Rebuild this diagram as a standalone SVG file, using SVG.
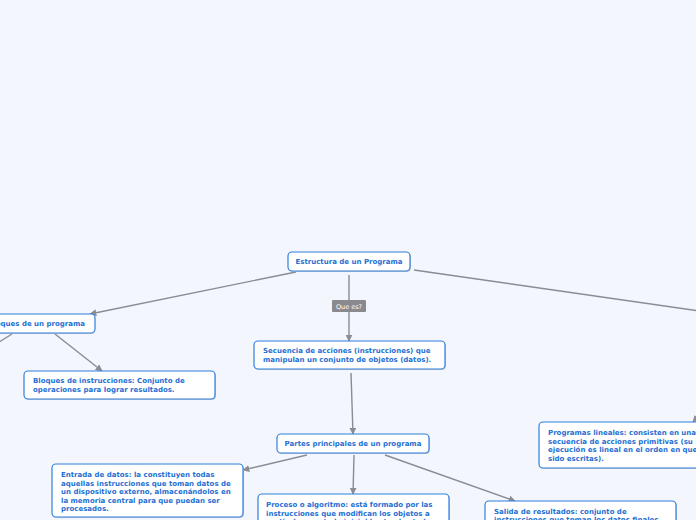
<svg xmlns="http://www.w3.org/2000/svg" width="696" height="520" viewBox="0 0 696 520">
<defs>
<marker id="ah" viewBox="0 0 10 10" refX="9" refY="5" markerWidth="7" markerHeight="7" orient="auto" markerUnits="userSpaceOnUse"><path d="M0,0 L10,5 L0,10 z" fill="#8a8b93"/></marker>
<style>
.bg{fill:#f4f6fd}
.n{fill:#fff;stroke:#2f7fdc;stroke-width:1.2}
.sh{fill:#c9ccd6}
.t{font-family:"DejaVu Sans",Verdana,sans-serif;font-weight:bold;font-size:7px;fill:#1f6fd2}
.c{fill:none;stroke:#8a8b93;stroke-width:1.4}
.lb{fill:#8a8a8e}
.lt{font-family:"DejaVu Sans",sans-serif;font-size:6.5px;fill:#fff}
</style>
</defs>
<rect class="bg" x="0" y="0" width="696" height="520"/>
<g id="connectors">
<line class="c" x1="296" y1="272" x2="90" y2="314" marker-end="url(#ah)"/>
<line class="c" x1="349" y1="275" x2="349" y2="341" marker-end="url(#ah)"/>
<line class="c" x1="414" y1="270" x2="700" y2="311"/>
<line class="c" x1="55" y1="334" x2="102" y2="371" marker-end="url(#ah)"/>
<line class="c" x1="12" y1="334" x2="-4" y2="344"/>
<line class="c" x1="351" y1="373" x2="353" y2="434" marker-end="url(#ah)"/>
<line class="c" x1="307" y1="455" x2="243" y2="470" marker-end="url(#ah)"/>
<line class="c" x1="354" y1="455" x2="353" y2="494" marker-end="url(#ah)"/>
<line class="c" x1="385" y1="455" x2="515" y2="501" marker-end="url(#ah)"/>
<line class="c" x1="702" y1="412" x2="693" y2="422" marker-end="url(#ah)"/>
<rect class="lb" x="332" y="300" width="34" height="12" rx="1"/>
<text class="lt" x="349" y="308.5" text-anchor="middle">Que es?</text>
</g>
<g id="root">
<rect class="sh" x="289" y="253" width="122" height="19" rx="4"/>
<rect class="n" x="288" y="252" width="122" height="19" rx="4"/>
<text class="t" x="349" y="264" text-anchor="middle">Estructura de un Programa</text>
</g>
<g id="bloques">
<rect class="sh" x="-19" y="315" width="114" height="19" rx="4"/>
<rect class="n" x="-20" y="314" width="115" height="19" rx="4"/>
<text class="t" x="-12" y="326">Bloques de un programa</text>
</g>
<g id="bloques-instrucciones">
<rect class="sh" x="25" y="372" width="191" height="28" rx="4"/>
<rect class="n" x="24" y="371" width="191" height="28" rx="4"/>
<text class="t" x="33" y="383">Bloques de instrucciones: Conjunto de</text>
<text class="t" x="33" y="392">operaciones para lograr resultados.</text>
</g>
<g id="secuencia">
<rect class="sh" x="255" y="342" width="191" height="28" rx="4"/>
<rect class="n" x="254" y="341" width="191" height="28" rx="4"/>
<text class="t" x="263" y="353">Secuencia de acciones (instrucciones) que</text>
<text class="t" x="263" y="362">manipulan un conjunto de objetos (datos).</text>
</g>
<g id="partes">
<rect class="sh" x="278" y="435" width="152" height="19" rx="4"/>
<rect class="n" x="277" y="434" width="152" height="19" rx="4"/>
<text class="t" x="353" y="446" text-anchor="middle">Partes principales de un programa</text>
</g>
<g id="entrada">
<rect class="sh" x="53" y="465" width="191" height="53" rx="4"/>
<rect class="n" x="52" y="464" width="191" height="53" rx="4"/>
<text class="t" x="61" y="477">Entrada de datos: la constituyen todas</text>
<text class="t" x="61" y="485.5">aquellas instrucciones que toman datos de</text>
<text class="t" x="61" y="494">un dispositivo externo, almacenándolos en</text>
<text class="t" x="61" y="502.5">la memoria central para que puedan ser</text>
<text class="t" x="61" y="511">procesados.</text>
</g>
<g id="proceso">
<rect class="sh" x="259" y="495" width="191" height="45" rx="4"/>
<rect class="n" x="258" y="494" width="191" height="45" rx="4"/>
<text class="t" x="266" y="507">Proceso o algoritmo: está formado por las</text>
<text class="t" x="266" y="515.5">instrucciones que modifican los objetos a</text>
<text class="t" x="266" y="524">partir de su estado inicial hasta el estado</text>
</g>
<g id="salida">
<rect class="sh" x="486" y="502" width="191" height="40" rx="4"/>
<rect class="n" x="485" y="501" width="191" height="40" rx="4"/>
<text class="t" x="494" y="513.5">Salida de resultados: conjunto de</text>
<text class="t" x="494" y="522">instrucciones que toman los datos finales</text>
</g>
<g id="programas-lineales">
<rect class="sh" x="540" y="423" width="191" height="46" rx="4"/>
<rect class="n" x="539" y="422" width="191" height="46" rx="4"/>
<text class="t" x="548" y="435">Programas lineales: consisten en una</text>
<text class="t" x="548" y="443.5">secuencia de acciones primitivas (su</text>
<text class="t" x="548" y="452">ejecución es lineal en el orden en que</text>
<text class="t" x="548" y="460.5">sido escritas).</text>
</g>
</svg>
